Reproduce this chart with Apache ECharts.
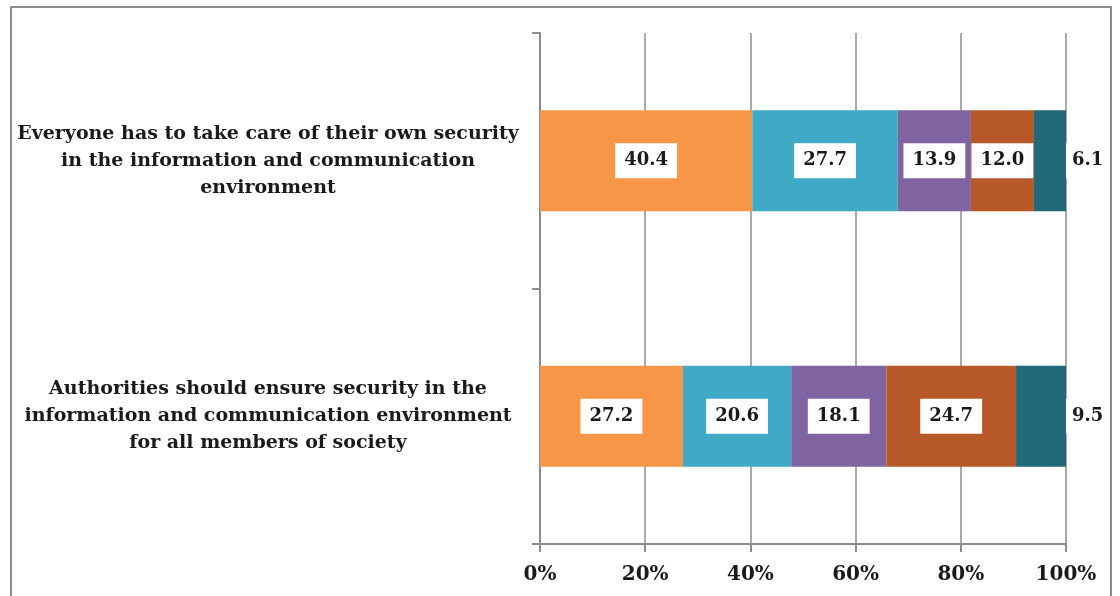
<!DOCTYPE html>
<html>
<head>
<meta charset="utf-8">
<script src="https://cdn.jsdelivr.net/npm/echarts@6/dist/echarts.min.js"></script>
<style>
html,body{margin:0;padding:0;background:#fff;}
#chart{width:1120px;height:596px;}
</style>
</head>
<body>
<div id="chart"></div>
<script>
const categories = [
  "Everyone has to take care of their own security\nin the information and communication\nenvironment",
  "Authorities should ensure security in the\ninformation and communication environment\nfor all members of society"
];
const seriesNames = ["Answer 1", "Answer 2", "Answer 3", "Answer 4", "Answer 5"];
const answer1 = [40.4, 27.2];
const answer2 = [27.7, 20.6];
const answer3 = [13.9, 18.1];
const answer4 = [12.0, 24.7];
const answer5 = [6.1, 9.5];
const xTicks = [0, 20, 40, 60, 80, 100];

const colors = ["#F79646", "#40AAC6", "#8064A2", "#B65828", "#216979"];
const FONT = "DejaVu Serif";

const raw = [answer1, answer2, answer3, answer4, answer5];
const totals = categories.map((c, i) => raw.reduce((s, arr) => s + arr[i], 0));

const series = raw.map((arr, si) => ({
  name: seriesNames[si],
  type: "bar",
  stack: "total",
  barWidth: "39.6%",
  itemStyle: { color: colors[si] },
  data: arr.map((v, i) => ({ value: v / totals[i] * 100, raw: v })),
  label: {
    show: true,
    position: si === raw.length - 1 ? "right" : "inside",
    distance: 0,
    formatter: p => p.data.raw.toFixed(1),
    backgroundColor: "#ffffff",
    padding: si === raw.length - 1 ? [9, 6, 8, 6] : [9, 9, 8, 9],
    color: "#1a1a1a",
    fontFamily: FONT,
    fontWeight: "bold",
    fontSize: 18
  }
}));

const chart = echarts.init(document.getElementById("chart"));
chart.setOption({
  animation: false,
  backgroundColor: "#ffffff",
  graphic: [{
    type: "rect",
    shape: { x: 11, y: 7, width: 1100, height: 620 },
    style: { fill: null, stroke: "#8c8c8c", lineWidth: 2 },
    silent: true
  }],
  grid: { left: 540, right: 54, top: 33, bottom: 52, containLabel: false },
  xAxis: {
    type: "value",
    min: xTicks[0],
    max: xTicks[xTicks.length - 1],
    interval: 20,
    axisLine: { show: true, lineStyle: { color: "#8c8c8c", width: 2 } },
    axisTick: { show: true, length: 8, lineStyle: { color: "#8c8c8c", width: 2 } },
    splitLine: { show: true, lineStyle: { color: "#8c8c8c", width: 1.5 } },
    axisLabel: {
      formatter: "{value}%",
      margin: 21,
      color: "#1a1a1a",
      fontFamily: FONT,
      fontWeight: "bold",
      fontSize: 20
    }
  },
  yAxis: {
    type: "category",
    inverse: true,
    data: categories,
    axisLine: { show: true, lineStyle: { color: "#8c8c8c", width: 2 } },
    axisTick: { show: true, length: 8, lineStyle: { color: "#8c8c8c", width: 2 } },
    axisLabel: {
      margin: 272,
      align: "center",
      color: "#1a1a1a",
      fontFamily: FONT,
      fontWeight: "bold",
      fontSize: 19,
      lineHeight: 27
    }
  },
  series: series
});
</script>
</body>
</html>
